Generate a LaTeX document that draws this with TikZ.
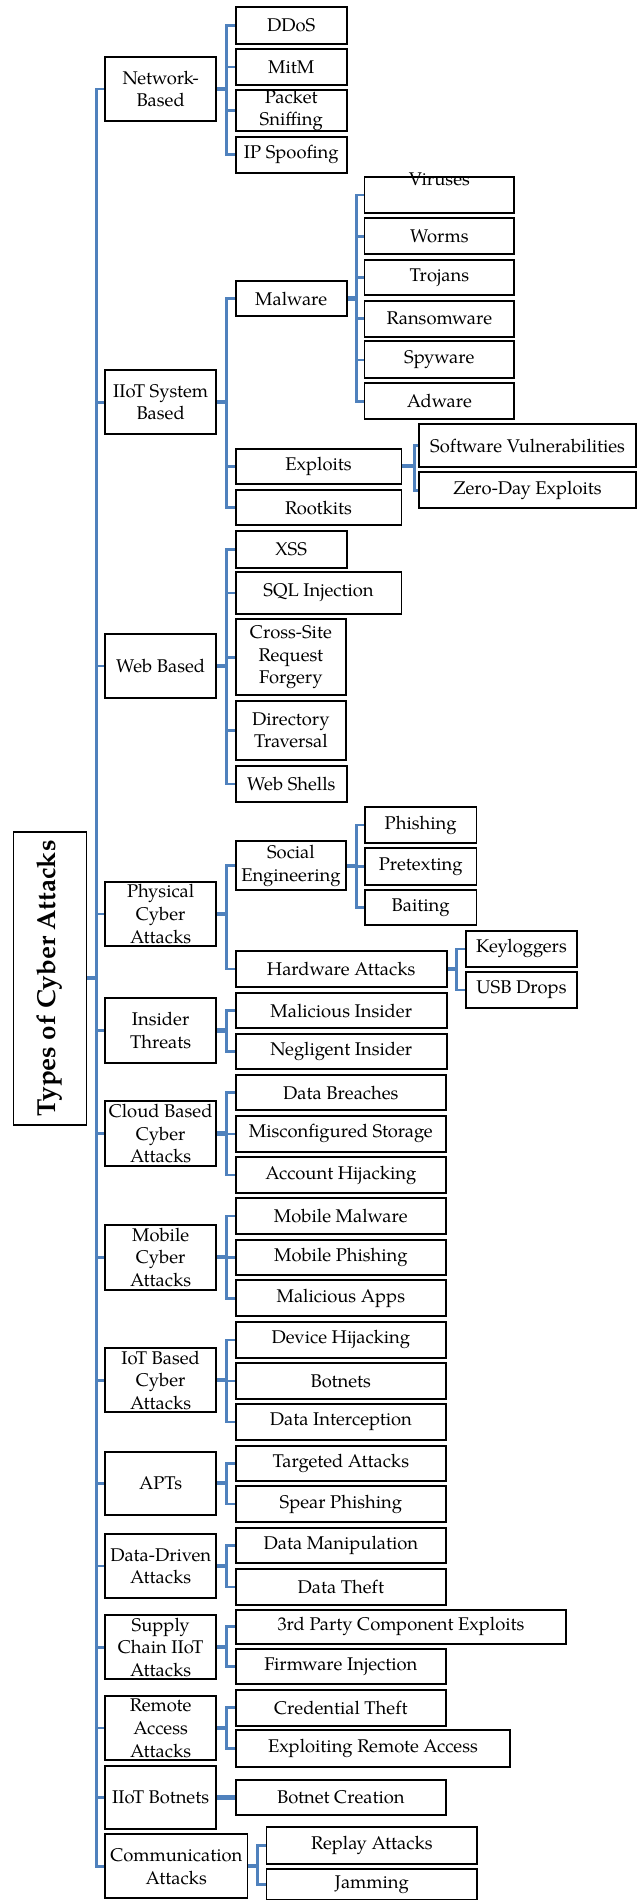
\documentclass[tikz,border=0pt]{standalone}
\usepackage{fontspec}
\setmainfont{TeX Gyre Pagella}
\usetikzlibrary{backgrounds}
\definecolor{linkblue}{HTML}{4F81BD}
\tikzset{
  cell/.style={draw=black, line width=1.8pt, fill=white, inner sep=0pt, rectangle},
  txt/.style={font=\fontsize{18.4}{22.7}\selectfont, align=center, inner sep=0pt},
  stem/.style={draw=linkblue, line width=3.6pt},
  hub/.style={draw=linkblue, line width=4.2pt},
  twig/.style={draw=linkblue, line width=2.6pt, line cap=rect},
}
% box with given corners (x1,y1,x2,y2) and centred text
\newcommand\bx[7][]{%
  \pgfmathsetmacro\bxw{#5-#3}%
  \pgfmathsetmacro\bxh{#6-#4}%
  \node[cell, minimum width=\bxw pt, minimum height=\bxh pt,
        label={[txt,#1]center:#7}] (#2) at ({(#3+#5)/2},{(#4+#6)/2}) {};}
% parent -> vertical bracket -> children
\newcommand\branch[5]{%
  \draw[hub] (#1.east) -- (#1.east -| #2);
  \draw[twig] (#3.west -| #2) -- (#4.west -| #2);
  \foreach \c in {#5} \draw[twig] (\c.west -| #2) -- (\c.west);}
\begin{document}
\begin{tikzpicture}[x=1pt,y=-1pt]
\useasboundingbox (0,0) rectangle (637,1901);

% root
\bx[rotate=90,font=\bfseries\fontsize{26}{30}\selectfont]{title}{13.4}{831.7}{86.4}{1125}{Types of Cyber Attacks}

% network based
\bx{netb}{105.2}{57.3}{216.1}{121}{Network-\\Based}
\bx{ddos}{235.6}{7.3}{346.9}{43.7}{DDoS}
\bx{mitm}{235.6}{49}{346.9}{84.7}{MitM}
\bx{pack}{235.6}{89.7}{346.9}{131}{Packet\\Sniffing}
\bx{ipsp}{235.6}{136.7}{346.9}{172.7}{IP Spoofing}

% IIoT system based
\bx{iiot}{105.2}{370.3}{216.1}{434.3}{IIoT System\\Based}
\bx{malw}{235.6}{281}{346.9}{316}{Malware}
\bx[yshift=16pt]{viru}{364.4}{176.7}{514.3}{213}{Viruses}
\bx{worm}{364.4}{218.3}{514.3}{254.3}{Worms}
\bx{troj}{364.4}{259.7}{514.3}{295.3}{Trojans}
\bx{rans}{364.4}{300.7}{514.3}{336.7}{Ransomware}
\bx{spyw}{364.4}{341.3}{514.3}{378.3}{Spyware}
\bx{adwa}{364.4}{383.3}{514.3}{419.3}{Adware}
\bx{expl}{235.6}{448.7}{401.4}{484}{Exploits}
\bx{root}{235.6}{489.7}{401.4}{525.3}{Rootkits}
\bx{swvu}{419.3}{424.3}{635.8}{466.7}{Software Vulnerabilities}
\bx{zero}{419.3}{472.3}{635.8}{508.3}{Zero-Day Exploits}

% web based
\bx{webb}{105.2}{634}{216.1}{698.3}{Web Based}
\bx{xss}{235.6}{530.7}{346.9}{567.7}{XSS}
\bx{sqli}{235.6}{571.7}{401.4}{614}{SQL Injection}
\bx{csrf}{235.6}{619.3}{346.2}{695.3}{Cross-Site\\Request\\Forgery}
\bx{dirt}{235.6}{700.7}{346.2}{760}{Directory\\Traversal}
\bx{wsh}{235.6}{765.7}{346.9}{802.3}{Web Shells}

% physical
\bx{phys}{105.2}{882.3}{216.1}{946}{Physical\\Cyber\\Attacks}
\bx{soci}{235.6}{841}{346.2}{890.3}{Social\\Engineering}
\bx{phis}{364.8}{806.7}{476.5}{843.3}{Phishing}
\bx{pret}{364.8}{848.3}{476.5}{884.7}{Pretexting}
\bx{bait}{364.8}{890}{476.5}{925.3}{Baiting}
\bx{hard}{235.6}{950.7}{446.9}{987.3}{Hardware Attacks}
\bx{keyl}{466}{931}{576.9}{966.7}{Keyloggers}
\bx{usbd}{466}{972}{576.9}{1007.7}{USB Drops}

% insider
\bx{insd}{105.2}{998.3}{216.1}{1062.7}{Insider\\Threats}
\bx{mali}{235.6}{993}{446.9}{1028.3}{Malicious Insider}
\bx{negl}{235.6}{1033.7}{446.9}{1069.3}{Negligent Insider}

% cloud
\bx{clou}{105.2}{1101.3}{216.1}{1165.7}{Cloud Based\\Cyber\\Attacks}
\bx{brea}{235.6}{1075}{446.1}{1110.3}{Data Breaches}
\bx{misc}{235.6}{1115.7}{446.1}{1152}{Misconfigured Storage}
\bx{acct}{235.6}{1157}{446.1}{1193.3}{Account Hijacking}

% mobile
\bx{mobi}{105.2}{1225}{216.1}{1289.7}{Mobile\\Cyber\\Attacks}
\bx{mmal}{235.6}{1197.7}{446.1}{1234}{Mobile Malware}
\bx{mphi}{235.6}{1239.7}{446.1}{1275.3}{Mobile Phishing}
\bx{mapp}{235.6}{1280.3}{446.1}{1316.3}{Malicious Apps}

% IoT
\bx{iotb}{105.2}{1348.3}{216.1}{1412.3}{IoT Based\\Cyber\\Attacks}
\bx{devh}{235.6}{1322}{446.1}{1357.7}{Device Hijacking}
\bx{botb}{235.6}{1363}{446.1}{1399}{Botnets}
\bx{dint}{235.6}{1404.3}{446.1}{1440}{Data Interception}

% APTs
\bx{apts}{105.2}{1451.7}{216.1}{1515}{APTs}
\bx{targ}{235.6}{1445.7}{446.1}{1481}{Targeted Attacks}
\bx{spea}{235.6}{1486.3}{446.1}{1522}{Spear Phishing}

% data-driven
\bx{data}{105.2}{1534}{216.1}{1598.3}{Data-Driven\\Attacks}
\bx{dman}{235.6}{1528}{446.1}{1563.3}{Data Manipulation}
\bx{dthe}{235.6}{1568.7}{446.1}{1605.3}{Data Theft}

% supply chain
\bx{supp}{105.2}{1615.3}{216.1}{1679.3}{Supply\\Chain IIoT\\Attacks}
\bx{trdp}{235.6}{1609.7}{566.3}{1643.7}{3rd Party Component Exploits}
\bx{firm}{235.6}{1648.7}{446.1}{1684}{Firmware Injection}

% remote access
\bx{remo}{105.2}{1696.3}{216.1}{1760}{Remote\\Access\\Attacks}
\bx{cred}{235.6}{1689.7}{446.1}{1725.7}{Credential Theft}
\bx{erac}{235.6}{1730.3}{510.3}{1767}{Exploiting Remote Access}

% botnets
\bx{botn}{105.2}{1765.7}{216.1}{1829.3}{IIoT Botnets}
\bx{botc}{235.6}{1779.7}{446.1}{1815.3}{Botnet Creation}

% communication
\bx{comm}{105.2}{1834.3}{247.4}{1898.3}{Communication\\Attacks}
\bx{repl}{266.5}{1827}{477.3}{1864}{Replay Attacks}
\bx{jamm}{266.5}{1869.3}{477.3}{1899.5}{Jamming}

% bracket columns
\coordinate (T)  at (96.3,0);
\coordinate (B2) at (226.3,0);
\coordinate (B3) at (356.3,0);
\coordinate (BX) at (414.4,0);
\coordinate (BH) at (456.2,0);
\coordinate (BC) at (257.2,0);

\begin{scope}[on background layer]
  % trunk
  \draw[stem] (netb.west -| T) -- (comm.west -| T);
  \draw[hub] (title.east) -- (title.east -| T);
  \foreach \n in {netb,iiot,webb,phys,insd,clou,mobi,iotb,apts,data,supp,remo,botn,comm}
    \draw[twig] (\n.west -| T) -- (\n.west);
  % second and third levels
  \branch{netb}{B2}{ddos}{ipsp}{ddos,mitm,pack,ipsp}
  \branch{iiot}{B2}{malw}{root}{malw,expl,root}
  \branch{malw}{B3}{viru}{adwa}{viru,worm,troj,rans,spyw,adwa}
  \branch{expl}{BX}{swvu}{zero}{swvu,zero}
  \branch{webb}{B2}{xss}{wsh}{xss,sqli,csrf,dirt,wsh}
  \branch{phys}{B2}{soci}{hard}{soci,hard}
  \branch{soci}{B3}{phis}{bait}{phis,pret,bait}
  \branch{hard}{BH}{keyl}{usbd}{keyl,usbd}
  \branch{insd}{B2}{mali}{negl}{mali,negl}
  \branch{clou}{B2}{brea}{acct}{brea,misc,acct}
  \branch{mobi}{B2}{mmal}{mapp}{mmal,mphi,mapp}
  \branch{iotb}{B2}{devh}{dint}{devh,botb,dint}
  \branch{apts}{B2}{targ}{spea}{targ,spea}
  \branch{data}{B2}{dman}{dthe}{dman,dthe}
  \branch{supp}{B2}{trdp}{firm}{trdp,firm}
  \branch{remo}{B2}{cred}{erac}{cred,erac}
  \draw[hub] (botn.east) -- (botc.west);
  \branch{comm}{BC}{repl}{jamm}{repl,jamm}
\end{scope}
\end{tikzpicture}
\end{document}
